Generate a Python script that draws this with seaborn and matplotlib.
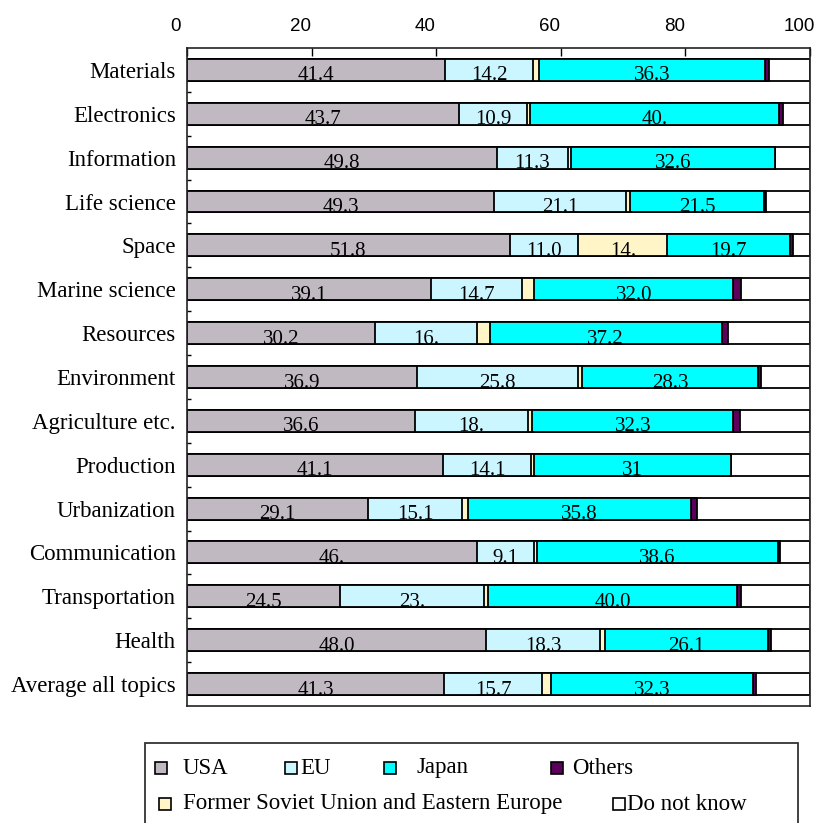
import numpy as np
import pandas as pd
import seaborn as sns
import matplotlib
matplotlib.use("Agg")
import matplotlib.pyplot as plt
import matplotlib.transforms as mtransforms
from matplotlib.patches import Rectangle

# --- data -------------------------------------------------------------
categories = ["Materials", "Electronics", "Information", "Life science", "Space",
              "Marine science", "Resources", "Environment", "Agriculture etc.",
              "Production", "Urbanization", "Communication", "Transportation",
              "Health", "Average all topics"]

usa = [41.4, 43.7, 49.8, 49.3, 51.8, 39.1, 30.2, 36.9, 36.6, 41.1, 29.1, 46.6, 24.5, 48.0, 41.3]
eu = [14.2, 10.9, 11.3, 21.1, 11.0, 14.7, 16.4, 25.8, 18.1, 14.1, 15.1, 9.1, 23.2, 18.3, 15.7]
fsu = [0.9, 0.4, 0.6, 0.7, 14.3, 1.9, 2.0, 0.7, 0.7, 0.5, 0.9, 0.5, 0.6, 0.8, 1.5]
japan = [36.3, 40.0, 32.6, 21.5, 19.7, 32.0, 37.2, 28.3, 32.3, 31.6, 35.8, 38.6, 40.0, 26.1, 32.3]
others = [0.6, 0.7, 0.0, 0.4, 0.4, 1.2, 1.0, 0.5, 1.0, 0.0, 0.9, 0.4, 0.6, 0.5, 0.6]

usa_labels = ["41.4", "43.7", "49.8", "49.3", "51.8", "39.1", "30.2", "36.9", "36.6",
              "41.1", "29.1", "46.", "24.5", "48.0", "41.3"]
eu_labels = ["14.2", "10.9", "11.3", "21.1", "11.0", "14.7", "16.", "25.8", "18.",
             "14.1", "15.1", "9.1", "23.", "18.3", "15.7"]
fsu_labels = ["", "", "", "", "14.", "", "", "", "", "", "", "", "", "", ""]
japan_labels = ["36.3", "40.", "32.6", "21.5", "19.7", "32.0", "37.2", "28.3", "32.3",
                "31", "35.8", "38.6", "40.0", "26.1", "32.3"]

series_names = ["USA", "EU", "Former Soviet Union and Eastern Europe", "Japan", "Others", "Do not know"]
colors = {"USA": "#C0B9C1", "EU": "#CCF6FF",
          "Former Soviet Union and Eastern Europe": "#FFF5C6",
          "Japan": "#00FFFF", "Others": "#5C005C", "Do not know": "#FFFFFF"}

df = pd.DataFrame({"category": categories, "USA": usa, "EU": eu,
                   "Former Soviet Union and Eastern Europe": fsu,
                   "Japan": japan, "Others": others})
df["Do not know"] = 100 - df[series_names[:-1]].sum(axis=1)

# cumulative right edges of each stacked segment
cum = df[series_names].cumsum(axis=1)
cum["category"] = df["category"]

# --- figure -----------------------------------------------------------
sns.set_theme(style="white")
plt.rcParams["font.family"] = ["Liberation Serif", "DejaVu Serif"]
plt.rcParams.update({"text.color": "black", "xtick.color": "black",
                     "ytick.color": "black", "axes.labelcolor": "black"})

fig = plt.figure(figsize=(8.15, 8.23), dpi=100)
ax = fig.add_axes([0.2294, 0.1422, 0.7645, 0.7995])

# draw stacked bars back to front: each layer is the running total
for name in reversed(series_names):
    sns.barplot(data=cum, x=name, y="category", order=categories, orient="h",
                color=colors[name], saturation=1, width=0.5,
                edgecolor="black", linewidth=1.3, ax=ax)

# value labels centred in their segments, sitting on the bar's bottom edge
label_sets = [("USA", usa_labels), ("EU", eu_labels),
              ("Former Soviet Union and Eastern Europe", fsu_labels),
              ("Japan", japan_labels)]
for name, labels in label_sets:
    for i, lab in enumerate(labels):
        if not lab:
            continue
        val = df[name].iloc[i]
        left = cum[name].iloc[i] - val
        clip = Rectangle((left, i - 0.25), val, 0.5, transform=ax.transData)
        t = ax.text(left + val / 2, i + 0.24, lab, ha="center", va="baseline",
                    fontsize=15, color="black", clip_on=True)
        t.set_clip_path(clip)

# axes styling
ax.set_xlim(0, 100)
ax.set_ylim(14.5, -0.5)
ax.set_xlabel("")
ax.set_ylabel("")
ax.xaxis.tick_top()
ax.set_xticks(np.arange(0, 101, 20))
ax.tick_params(axis="x", which="major", direction="in", length=6, width=1,
               color="black", labelcolor="black", pad=9.4, labelsize=13.5,
               top=True, bottom=False)
shift_left = mtransforms.ScaledTranslation(-0.11, 0, fig.dpi_scale_trans)
for lab in ax.get_xticklabels():
    lab.set_fontfamily(["Liberation Sans", "DejaVu Sans"])
    lab.set_transform(lab.get_transform() + shift_left)

ax.set_yticks(np.arange(len(categories)))
ax.set_yticklabels(categories)
ax.tick_params(axis="y", which="major", length=0, pad=8, labelsize=16.5,
               labelcolor="black")
ax.set_yticks(np.arange(0.5, len(categories) - 1, 1), minor=True)
ax.tick_params(axis="y", which="minor", direction="in", length=3, width=1,
               color="black", left=True)

for side in ["left", "right", "top", "bottom"]:
    ax.spines[side].set_visible(True)
    ax.spines[side].set_color("#222222")
    ax.spines[side].set_linewidth(1.2)

# --- legend box with hand-placed entries ------------------------------
W, H = 815.0, 823.0


def fx(px):
    return px / W


def fy(py):
    return 1 - py / H


fig.add_artist(Rectangle((fx(145), fy(840)), fx(798) - fx(145), fy(743) - fy(840),
                         transform=fig.transFigure, facecolor="white",
                         edgecolor="#333333", linewidth=1.3))

legend_items = [
    ("USA", 161, 768, 183),
    ("EU", 291, 768, 300),
    ("Japan", 390, 768, 416),
    ("Others", 557, 768, 572),
    ("Former Soviet Union and Eastern Europe", 165, 804, 183),
    ("Do not know", 619, 804, 627),
]
msz = 12
for name, mx, my, tx in legend_items:
    fig.add_artist(Rectangle((fx(mx - msz / 2), fy(my + msz / 2)), msz / W, msz / H,
                             transform=fig.transFigure, facecolor=colors[name],
                             edgecolor="black", linewidth=1.2))
    fig.text(fx(tx), fy(my), name, ha="left", va="center", fontsize=16.5, color="black")

fig.savefig("out.png", dpi=100)
